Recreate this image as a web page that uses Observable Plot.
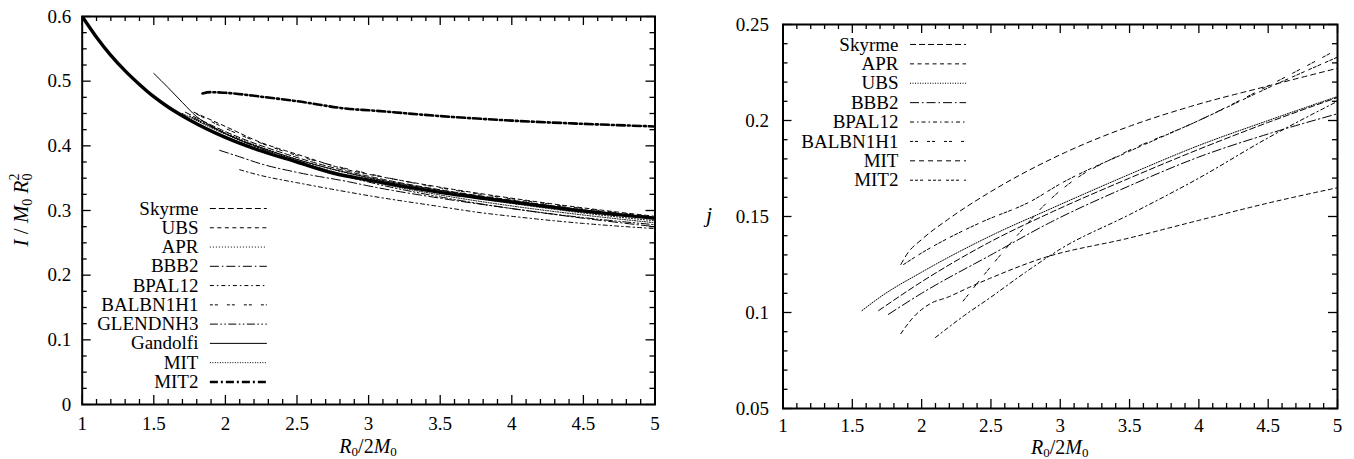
<!DOCTYPE html>
<html><head><meta charset="utf-8">
<script src="https://cdn.jsdelivr.net/npm/d3@7"></script>
<script src="https://cdn.jsdelivr.net/npm/@observablehq/plot@0.6"></script>
<style>
body{margin:0;background:#fff;}
#wrap{display:flex;width:1354px;height:459px;}
#wrap > div{width:677px;height:459px;}
svg, svg text{font-family:"Liberation Serif","Times New Roman",Times,serif !important;}
</style></head><body><div id="wrap"><div id="left"></div><div id="right"></div></div>
<script>
// ---------- tick labels ----------
const xMajorTicks = [1, 1.5, 2, 2.5, 3, 3.5, 4, 4.5, 5];
const leftYTicks = [0, 0.1, 0.2, 0.3, 0.4, 0.5, 0.6];
const rightYTicks = [0.05, 0.1, 0.15, 0.2, 0.25];

// ---------- left panel: I / M0 R0^2 vs R0/2M0 ----------
const leftThick = [[1.00,0.600],[1.10,0.568],[1.20,0.540],[1.30,0.516],[1.40,0.495],[1.50,0.476],[1.60,0.460],[1.75,0.440],[2.00,0.413],[2.25,0.392],[2.50,0.375],[2.75,0.358],[3.00,0.347],[3.50,0.328],[4.00,0.313],[4.50,0.299],[5.00,0.288]];
const leftSkyrme = [[1.72,0.452],[1.80,0.443],[2.00,0.422],[2.50,0.382],[3.00,0.353],[3.50,0.332],[4.00,0.316],[4.50,0.301],[5.00,0.289]];
const leftUBS = [[1.78,0.452],[1.83,0.447],[2.00,0.430],[2.25,0.405],[2.50,0.387],[2.87,0.362],[3.00,0.356],[3.50,0.336],[4.00,0.319],[4.50,0.304],[5.00,0.291]];
const leftAPR = [[1.75,0.446],[2.00,0.420],[2.50,0.379],[3.00,0.350],[3.50,0.328],[4.00,0.311],[4.50,0.296],[5.00,0.284]];
const leftBBB2 = [[1.96,0.393],[2.10,0.383],[2.25,0.372],[2.50,0.359],[2.87,0.344],[3.00,0.338],[3.50,0.319],[4.00,0.303],[4.50,0.288],[5.00,0.275]];
const leftBPAL12 = [[2.10,0.363],[2.25,0.354],[2.50,0.343],[2.87,0.328],[3.00,0.323],[3.50,0.306],[3.77,0.297],[4.00,0.291],[4.50,0.280],[5.00,0.272]];
const leftBALBN1H1 = [[1.80,0.449],[2.00,0.427],[2.50,0.385],[3.00,0.357],[3.50,0.335],[4.00,0.318],[4.50,0.303],[5.00,0.290]];
const leftGLENDNH3 = [[1.78,0.443],[2.00,0.419],[2.50,0.375],[3.00,0.344],[3.50,0.321],[4.00,0.303],[4.50,0.289],[5.00,0.278]];
const leftGandolfi = [[1.50,0.512],[1.60,0.490],[1.70,0.467],[1.80,0.445],[1.90,0.431],[2.00,0.419],[2.25,0.397],[2.50,0.379],[3.00,0.351],[3.50,0.331],[4.00,0.315],[4.50,0.301],[5.00,0.289]];
const leftMIT = [[1.70,0.450],[2.00,0.418],[2.50,0.377],[3.00,0.346],[3.50,0.324],[4.00,0.307],[4.50,0.293],[5.00,0.281]];
const leftMIT2 = [[1.84,0.481],[1.90,0.483],[2.00,0.482],[2.25,0.476],[2.50,0.469],[2.87,0.457],[3.00,0.455],[3.50,0.446],[4.00,0.439],[4.50,0.434],[5.00,0.430]];
const leftLegendNames = ["Skyrme","UBS","APR","BBB2","BPAL12","BALBN1H1","GLENDNH3","Gandolfi","MIT","MIT2"];

// ---------- right panel: j vs R0/2M0 ----------
const rightSkyrme = [[1.69,0.101],[2.00,0.116],[2.50,0.137],[2.93,0.152],[3.50,0.170],[4.00,0.185],[4.50,0.199],[5.00,0.212]];
const rightAPR = [[1.85,0.089],[1.94,0.0975],[2.06,0.1045],[2.19,0.108],[2.34,0.113],[2.50,0.118],[2.86,0.128],[3.51,0.139],[4.00,0.148],[4.50,0.157],[5.00,0.165]];
const rightUBS = [[1.57,0.101],[1.70,0.108],[2.00,0.121],[2.50,0.140],[2.93,0.154],[3.50,0.172],[4.00,0.187],[4.50,0.200],[5.00,0.2125]];
const rightBBB2 = [[1.76,0.099],[2.00,0.110],[2.50,0.130],[2.93,0.147],[3.50,0.166],[4.00,0.181],[4.50,0.193],[5.00,0.2035]];
const rightBPAL12 = [[2.10,0.087],[2.30,0.098],[2.50,0.108],[2.75,0.121],[3.00,0.133],[3.50,0.151],[4.00,0.170],[4.50,0.191],[5.00,0.210]];
const rightBALBN1H1 = [[2.30,0.106],[2.50,0.124],[2.70,0.141],[2.90,0.157],[3.10,0.169],[3.40,0.181],[4.00,0.200],[4.50,0.218],[5.00,0.237]];
const rightMIT = [[1.85,0.125],[1.90,0.131],[2.00,0.138],[2.20,0.149],[2.50,0.163],[3.04,0.1835],[3.50,0.197],[3.94,0.2073],[4.50,0.218],[5.00,0.2272]];
const rightMIT2 = [[1.87,0.125],[2.00,0.131],[2.20,0.139],[2.43,0.147],[2.79,0.158],[3.00,0.167],[3.50,0.184],[4.00,0.200],[4.50,0.217],[5.00,0.233]];
const rightLegendNames = ["Skyrme","APR","UBS","BBB2","BPAL12","BALBN1H1","MIT","MIT2"];

// ---------- styles (kept apart from the data) ----------
const FONT = "'Liberation Serif','Times New Roman',Times,serif";
const leftSeries = [
  {data: leftThick, dash: null, w: 3.4, legend: false},
  {data: leftSkyrme, dash: "6,3", w: 1},
  {data: leftUBS, dash: "4,3.5", w: 1},
  {data: leftAPR, dash: "1,2", w: 1},
  {data: leftBBB2, dash: "9,3,1.5,3", w: 1},
  {data: leftBPAL12, dash: "4,3,1.5,3", w: 1},
  {data: leftBALBN1H1, dash: "3,2,3,9", w: 1},
  {data: leftGLENDNH3, dash: "8,2.5,1.5,2.5,1.5,2.5", w: 1},
  {data: leftGandolfi, dash: null, w: 1},
  {data: leftMIT, dash: "1,1.5", w: 1},
  {data: leftMIT2, dash: "8,3,2,3", w: 2.6}
];
const rightSeries = [
  {data: rightSkyrme, dash: "6,3", w: 1},
  {data: rightAPR, dash: "4,3.5", w: 1},
  {data: rightUBS, dash: "1,1.5", w: 1},
  {data: rightBBB2, dash: "9,3,1.5,3", w: 1},
  {data: rightBPAL12, dash: "4,3,1.5,3", w: 1},
  {data: rightBALBN1H1, dash: "3,2,3,9", w: 1},
  {data: rightMIT, dash: "5,4", w: 1},
  {data: rightMIT2, dash: "3,2,3,2,3,5", w: 1}
];

function fmt(d) { return String(+d.toFixed(3)); }

function makePanel(cfg) {
  const {width, height, mL, mR, mT, mB, xDomain, yDomain, yTicks, yMinorStep, series, legendNames, legend} = cfg;
  const iw = width - mL - mR, ih = height - mT - mB;
  const near = (arr, v) => arr.some(t => Math.abs(t - v) < 1e-9);
  const xMinor = d3.range(Math.round(xDomain[0] * 10), Math.round(xDomain[1] * 10) + 1).map(v => v / 10).filter(v => !near(xMajorTicks, v));
  const nY = Math.round((yDomain[1] - yDomain[0]) / yMinorStep);
  const yMinor = d3.range(0, nY + 1).map(i => +(yDomain[0] + i * yMinorStep).toFixed(4)).filter(v => !near(yTicks, v));
  const MAJ = 9, MIN = 5, TW = 1.3;
  const marks = [
    Plot.ruleX(xMinor, {insetTop: ih - MIN, strokeWidth: TW}),
    Plot.ruleX(xMinor, {insetBottom: ih - MIN, strokeWidth: TW}),
    Plot.ruleX(xMajorTicks, {insetTop: ih - MAJ, strokeWidth: TW}),
    Plot.ruleX(xMajorTicks, {insetBottom: ih - MAJ, strokeWidth: TW}),
    Plot.ruleY(yMinor, {insetRight: iw - MIN, strokeWidth: TW}),
    Plot.ruleY(yMinor, {insetLeft: iw - MIN, strokeWidth: TW}),
    Plot.ruleY(yTicks, {insetRight: iw - MAJ, strokeWidth: TW}),
    Plot.ruleY(yTicks, {insetLeft: iw - MAJ, strokeWidth: TW})
  ];
  series.forEach(s => {
    marks.push(Plot.line(s.data, {x: d => d[0], y: d => d[1], stroke: "black", strokeWidth: s.w,
      strokeDasharray: s.dash || undefined, curve: "monotone-x", clip: true}));
  });
  const legSeries = series.filter(s => s.legend !== false);
  marks.push(Plot.text(legendNames, {x: () => legend.textX, y: (d, i) => legend.y0 - i * legend.step,
    text: d => d, textAnchor: "end", fontSize: 19, fill: "black"}));
  legSeries.forEach((s, i) => {
    marks.push(Plot.ruleY([legend.y0 - i * legend.step], {x1: legend.x1, x2: legend.x2, stroke: "black",
      strokeWidth: s.w, strokeDasharray: s.dash || undefined}));
  });
  marks.push(Plot.frame({stroke: "black", strokeWidth: 2}));
  const svg = Plot.plot({
    width, height, marginLeft: mL, marginRight: mR, marginTop: mT, marginBottom: mB,
    style: {fontFamily: FONT, fontSize: "19px", background: "white", color: "black"},
    x: {domain: xDomain, ticks: xMajorTicks, tickSize: 0, tickPadding: cfg.xPad, tickFormat: fmt, label: null},
    y: {domain: yDomain, ticks: yTicks, tickSize: 0, tickPadding: cfg.yPad, tickFormat: fmt, label: null},
    marks
  });
  // x title: R0/2M0
  const t = d3.select(svg).append("text").attr("x", mL + iw / 2).attr("y", cfg.titleY)
    .attr("text-anchor", "middle").attr("font-family", FONT).attr("font-size", 20).attr("fill", "black");
  t.append("tspan").attr("font-style", "italic").text("R");
  t.append("tspan").attr("font-size", 13).attr("dy", 2.5).text("0");
  t.append("tspan").attr("dy", -2.5).text("/2");
  t.append("tspan").attr("font-style", "italic").text("M");
  t.append("tspan").attr("font-size", 13).attr("dy", 2.5).text("0");
  return {svg, iw, ih};
}

// left panel
const L = makePanel({
  width: 677, height: 459, mL: 81.7, mR: 22.5, mT: 16, mB: 55,
  xDomain: [1, 5], yDomain: [0, 0.6], yTicks: leftYTicks, yMinorStep: 0.025, yPad: 11, xPad: 12, titleY: 453,
  series: leftSeries, legendNames: leftLegendNames,
  legend: {textX: 1.812, x1: 1.895, x2: 2.293, y0: 0.3031, step: 0.0298}
});
{
  const yt = d3.select(L.svg).append("text").attr("transform", `translate(28,${16 + L.ih / 2}) rotate(-90)`)
    .attr("text-anchor", "middle").attr("font-family", FONT).attr("font-size", 21).attr("fill", "black");
  yt.append("tspan").attr("font-style", "italic").text("I");
  yt.append("tspan").text(" / ");
  yt.append("tspan").attr("font-style", "italic").text("M");
  yt.append("tspan").attr("font-size", 14).attr("dy", 4).text("0");
  yt.append("tspan").attr("dy", -4).text(" ");
  yt.append("tspan").attr("font-style", "italic").text("R");
  yt.append("tspan").attr("font-size", 14).attr("dy", 4).text("0");
  yt.append("tspan").attr("font-size", 14).attr("dx", -7).attr("dy", -13).text("2");
}
document.getElementById("left").appendChild(L.svg);

// right panel
const R = makePanel({
  width: 677, height: 459, mL: 105.5, mR: 17, mT: 24, mB: 51,
  xDomain: [1, 5], yDomain: [0.05, 0.25], yTicks: rightYTicks, yMinorStep: 0.01, yPad: 14, xPad: 10, titleY: 454,
  series: rightSeries, legendNames: rightLegendNames,
  legend: {textX: 1.833, x1: 1.92, x2: 2.324, y0: 0.2396, step: 0.0101}
});
{
  d3.select(R.svg).append("text").attr("x", 32).attr("y", 24 + R.ih / 2 + 6)
    .attr("text-anchor", "middle").attr("font-family", FONT).attr("font-size", 22)
    .attr("font-style", "italic").attr("fill", "black").text("j");
}
document.getElementById("right").appendChild(R.svg);
</script>
</body></html>
